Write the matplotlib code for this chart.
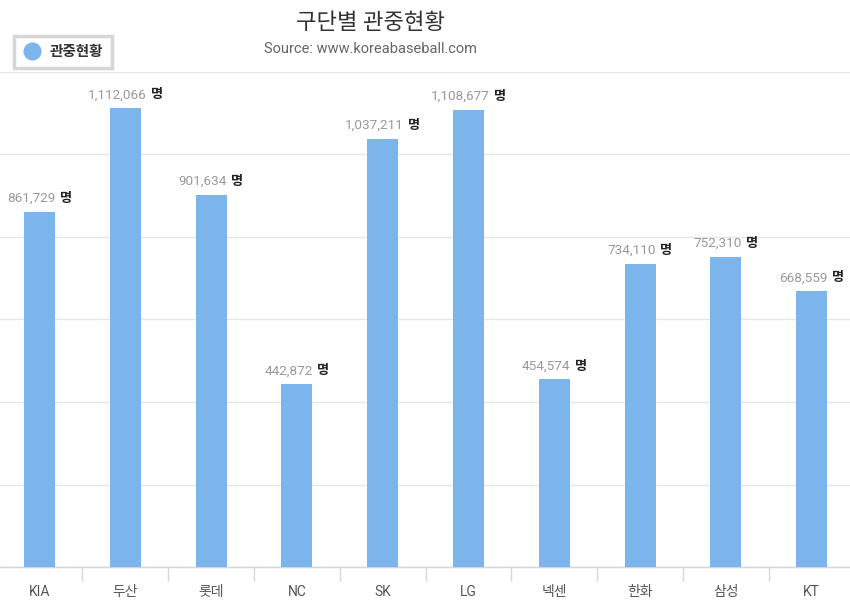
import matplotlib
matplotlib.use("Agg")
import matplotlib.pyplot as plt
from matplotlib.offsetbox import TextArea, HPacker, AnnotationBbox
from matplotlib.lines import Line2D

plt.rcParams['font.family'] = ['Roboto', 'Noto Sans CJK KR', 'DejaVu Sans']

teams = ["KIA", "두산", "롯데", "NC", "SK", "LG", "넥센", "한화", "삼성", "KT"]
attendance = [861729, 1112066, 901634, 442872, 1037211, 1108677, 454574, 734110, 752310, 668559]
y_ticks = [0, 200000, 400000, 600000, 800000, 1000000, 1200000]

bar_color = "#7cb5ec"
grid_color = "#e6e6e6"
axis_color = "#ccd6eb"

fig = plt.figure(figsize=(8.5, 6.13), dpi=100)
ax = fig.add_axes([0, 0.075, 1, 0.8076])

x = list(range(len(teams)))
ax.bar(x, attendance, width=0.361, color=bar_color, zorder=3)

ax.set_xlim(-0.46, 9.446)
ax.set_ylim(0, 1200000)
ax.set_yticks(y_ticks)
ax.yaxis.grid(True, color=grid_color, linewidth=1, zorder=0)
ax.tick_params(axis='y', length=0, labelleft=False)
for s in ["left", "right", "top"]:
    ax.spines[s].set_visible(False)
ax.spines["bottom"].set_color(axis_color)
ax.spines["bottom"].set_linewidth(1)

# category labels, with separators between bands
ax.set_xticks(x)
ax.set_xticklabels(teams, fontsize=10, color="#555555")
ax.tick_params(axis='x', length=0, pad=13)
ax.set_xticks([i + 0.5 for i in range(len(teams) - 1)], minor=True)
ax.tick_params(axis='x', which='minor', length=10, color="#d8d8d8", width=1)

# data labels: gray number + bold unit
for i, v in enumerate(attendance):
    num = TextArea(f"{v:,}", textprops=dict(color="#999999", fontsize=9.7))
    unit = TextArea("명", textprops=dict(color="#222222", fontsize=9.5, fontweight="bold",
                                         family=['Noto Sans CJK KR']))
    pack = HPacker(children=[num, unit], align="baseline", pad=0, sep=3)
    ab = AnnotationBbox(pack, (i, v), xybox=(0, 5), xycoords='data',
                        boxcoords="offset points", box_alignment=(0.5, 0),
                        frameon=False, annotation_clip=False)
    ax.add_artist(ab)

fig.text(0.436, 0.962, "구단별 관중현황", ha='center', va='center', fontsize=16,
         color="#333333")
fig.text(0.436, 0.920, "Source: www.koreabaseball.com", ha='center', va='center',
         fontsize=10.5, color="#666666")

handle = Line2D([], [], marker='o', linestyle='None', markersize=12,
                markerfacecolor=bar_color, markeredgecolor=bar_color)
leg = fig.legend([handle], ["관중현황"], loc='upper left', bbox_to_anchor=(0.017, 0.941),
                 frameon=True, fancybox=False, handletextpad=0.6, borderpad=0.6,
                 borderaxespad=0, handlelength=1.2, prop=dict(weight='bold', size=10.5))
leg.get_frame().set_edgecolor("#cccccc")
leg.get_frame().set_linewidth(2.5)
for t in leg.get_texts():
    t.set_color("#333333")

fig.savefig("out.png", dpi=100)
